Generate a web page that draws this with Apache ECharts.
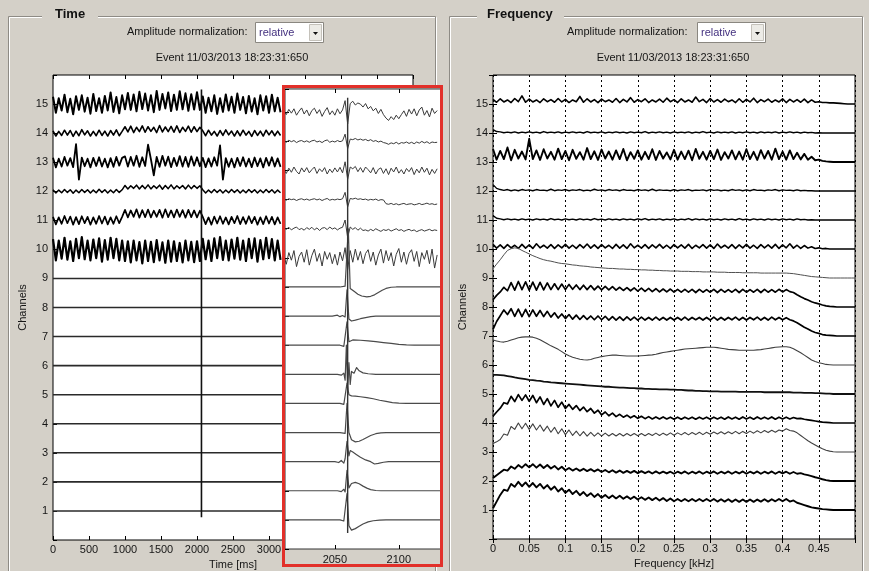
<!DOCTYPE html>
<html>
<head>
<meta charset="utf-8">
<title>Event 11/03/2013 18:23:31:650</title>
<script src="https://cdn.jsdelivr.net/npm/echarts@6.0.0/dist/echarts.min.js"></script>
<style>
  html, body { margin: 0; padding: 0; background: #d4d0c8; }
  #chart { width: 869px; height: 571px; }
</style>
</head>
<body>
<div id="chart"></div>
<script>
// ---------- values ----------
// all trace offsets are in 1/100 of one channel spacing, above the channel baseline
const channelTicks = [1, 2, 3, 4, 5, 6, 7, 8, 9, 10, 11, 12, 13, 14, 15];
const timeTicks = [0, 500, 1000, 1500, 2000, 2500, 3000, 3500, 4000, 4500];
const zoomTicks = [2050, 2100];
const freqTicks = [0, 0.05, 0.1, 0.15, 0.2, 0.25, 0.3, 0.35, 0.4, 0.45];

// Time view, noisy channels, one value every 40 ms from 0 ms (visible part only)
const mainStep = 40;
const main15 = [25,-30,20,-22,32,-28,18,-35,27,-20,30,-26,22,-33,35,-24,20,-30,28,-22,40,-27,24,-32,30,
  -18,38,-20,33,-25,42,-17,36,-22,30,-28,45,-20,35,-15,40,-24,32,-20,44,-18,37,-23,34,-19,41,-20,
  26,-30,22,-25,30,-34,20,-27,33,-22,25,-30,36,-20,24,-32,28,-26,20,-35,30,-22,27,-30,32,-25,22,-28];
const main14 = [8,-10,6,-8,10,-7,9,-11,7,-9,12,-6,8,-10,6,-9,10,-8,7,-10,9,-7,11,-9,6,
  22,4,24,2,20,5,25,3,22,6,20,2,26,4,21,5,23,3,25,2,20,6,24,3,22,5,20,
  8,-9,10,-7,6,-10,9,-8,11,-6,7,-10,8,-9,10,-7,6,-11,9,-8,7,-10,10,-6,8,-9,7,-8];
const main13 = [15,-18,12,-15,18,-12,14,-17,62,-60,16,-14,12,-18,15,-13,17,-15,12,-18,14,-16,18,-12,15,
  20,-15,18,-12,22,-16,17,-13,60,10,-45,18,-16,22,-12,19,-17,15,-13,21,-15,18,-16,20,-12,17,-14,
  15,-17,13,-15,17,-12,58,-60,14,-16,12,-18,15,-13,17,-15,12,-17,16,-14,13,-18,15,-12,17,-15,13,-16];
const main12 = [5,-6,4,-5,6,-4,5,-7,4,-5,6,-4,5,-6,4,-5,7,-4,5,-6,4,-5,6,-4,5,
  20,8,19,10,21,8,20,9,22,8,19,10,21,7,20,9,22,8,19,10,20,8,21,9,20,10,19,
  5,-6,4,-5,6,-4,5,-6,4,-5,6,-4,5,-6,4,-5,6,-4,5,-6,4,-5,6,-4,5,-6,4,-5];
const main11 = [12,-14,10,-12,15,-10,13,-15,11,-13,14,-10,12,-15,10,-12,15,-11,13,-14,10,-12,14,-10,12,
  36,10,34,12,38,9,35,11,37,10,33,12,36,9,38,11,34,10,37,12,35,9,36,11,34,10,33,
  12,-13,10,-15,13,-11,14,-12,10,-14,12,-10,15,-13,11,-12,14,-10,12,-15,10,-13,14,-11,12,-14,10,-12];
const main10 = [35,-38,30,-32,40,-35,28,-40,36,-30,42,-34,30,-38,34,-30,38,-42,32,-35,40,-30,36,-38,30,
  -40,28,-45,30,-38,25,-48,30,-40,26,-44,32,-38,24,-46,30,-42,28,-40,22,-45,30,-38,26,-44,28,-40,
  36,-34,30,-40,38,-30,42,-36,30,-38,34,-32,40,-35,30,-40,36,-30,38,-42,32,-34,40,-30,35,-38,30,-36];
const quietChannels = [1, 2, 3, 4, 5, 6, 7, 8, 9];
const timeRange = [0, 5000];
const mainSpike = [[2062, 0.78], [2062, 15.5]];

// zoomed window, noisy channels, one value every 2 ms from 2010 ms
const zoomStart = 2010;
const zoomStep = 2;
const zoom15 = [5,-8,10,-3,12,-10,4,15,-6,8,-12,6,14,-4,9,-14,3,16,-8,5,-10,12,-5,8,40,-40,30,38,25,32,
  28,18,30,12,20,5,14,-4,10,-8,-20,-28,-15,-25,-10,-22,-8,5,-14,10,-6,12,-12,8,18,-10,6,-16,14,-4,6];
const zoom14 = [2,-3,4,-1,3,-4,1,3,-2,2,-3,2,4,-2,1,-4,2,5,-3,1,-2,3,-1,2,25,-25,8,6,10,5,
  8,4,7,2,6,0,3,-2,1,-4,-6,-10,-5,-8,-3,-9,-4,-6,-2,-7,-3,-8,-2,-6,0,-5,-1,-7,-2,-4,-3];
const zoom13 = [4,-10,8,-6,12,-3,-12,9,-5,10,-8,3,12,-10,6,-4,10,-12,5,-7,9,-5,11,-8,30,-30,12,6,14,-4,
  10,-6,12,3,-8,10,-12,4,9,-10,6,-14,8,-5,12,-9,3,-12,7,-4,10,-14,5,-8,12,-6,8,-15,4,-10,6];
const zoom12 = [2,-2,3,0,2,-3,1,3,-1,2,-2,1,3,-1,2,-3,1,4,-2,1,-1,2,0,3,25,-25,4,2,5,1,
  3,0,2,-2,1,-1,2,-3,0,-1,-14,-16,-13,-17,-14,-18,-15,-13,-17,-15,-14,-18,-16,-13,-17,-15,-12,-16,-14,-17,-15];
const zoom11 = [3,-2,5,-4,2,6,-3,1,-5,4,-2,5,-4,3,-6,2,4,-3,6,-1,3,-4,2,5,30,-30,6,-2,4,-5,
  2,-6,-4,-8,-2,-7,0,-5,-9,-3,-6,-2,-8,-4,0,-6,-3,-9,-5,-2,-7,-4,-10,-6,-3,-8,-5,-2,-7,-4,-6];
const zoom10 = [10,-22,18,-8,25,-30,5,20,-15,28,-25,8,30,-12,15,-28,22,-5,18,-20,12,-25,20,-10,35,-40,25,-15,30,-8,
  22,-20,15,28,-12,20,-25,10,30,-18,25,-10,18,-28,12,32,-15,20,-22,15,28,-12,22,-30,18,-5,26,-20,30,-35,10];
// zoomed window, pulse responses of the quiet channels: [ms, offset]
const pulse9 = [[2010,0],[2054,0],[2058,3],[2060.5,200],[2062,-5],[2065,-15],[2068,-25],[2071,-31],[2075,-34],[2078,-32],[2081,-27],[2084,-19],[2087,-11],[2090,-5],[2094,-1],[2098,0],[2133,0]];
const pulse8 = [[2010,0],[2048,0],[2052,3],[2054,-2],[2056,2],[2058,-3],[2059.5,90],[2061,-10],[2063,-17],[2066,-14],[2070,-9],[2074,-5],[2078,-2],[2082,0],[2133,0]];
const pulse7 = [[2010,0],[2054,0],[2057,-4],[2059.5,80],[2061,12],[2064,18],[2070,17],[2076,15],[2082,12],[2088,9],[2094,6],[2100,3],[2106,1],[2112,0],[2133,0]];
const pulse6 = [[2010,0],[2052,0],[2055,-3],[2057,4],[2058,-20],[2059,100],[2060,-50],[2061,40],[2062,-35],[2063,10],[2065,4],[2067,23],[2069,12],[2072,5],[2076,2],[2082,0],[2133,0]];
const pulse5 = [[2010,0],[2054,0],[2057,-3],[2059.5,70],[2061,30],[2063,26],[2066,25],[2070,23],[2075,20],[2080,16],[2085,11],[2090,7],[2095,3],[2100,1],[2106,0],[2133,0]];
const pulse4 = [[2010,0],[2054,0],[2058,-3],[2059.5,100],[2061,0],[2063,-25],[2066,-32],[2069,-30],[2072,-24],[2075,-17],[2078,-10],[2082,-4],[2086,-1],[2090,0],[2133,0]];
const pulse3 = [[2010,0],[2050,0],[2053,-3],[2055,4],[2057,-5],[2058,10],[2059.5,70],[2061,20],[2062,38],[2064,33],[2067,24],[2070,15],[2074,6],[2078,0],[2081,-8],[2084,-6],[2088,-2],[2092,0],[2133,0]];
const pulse2 = [[2010,0],[2052,0],[2055,-3],[2057,5],[2058,-4],[2059.5,70],[2061,10],[2063,25],[2066,29],[2069,24],[2072,16],[2075,9],[2078,4],[2082,1],[2086,0],[2133,0]];
const pulse1 = [[2010,0],[2054,0],[2057,-4],[2059.5,90],[2061,-20],[2063,-35],[2066,-30],[2069,-22],[2072,-14],[2076,-7],[2080,-3],[2085,-1],[2090,0],[2133,0]];
const zoomSpike = [[2060, 0.55], [2060, 15.5]];

// Frequency view, one value every 0.005 kHz from 0 to 0.5 kHz
const specStep = 0.005;
const spec15 = [16,6,18,7,14,5,19,8,28,6, 17,7,14,5,18,8,15,6,19,7, 16,5,14,8,26,6,18,7,15,5, 17,8,14,6,19,5,16,7,22,6,
  15,8,18,5,14,7,17,6,20,8, 15,5,18,7,14,6,24,8,16,5, 19,7,15,6,17,8,14,5,18,6, 16,7,20,5,15,8,17,6,14,7,
  18,5,16,7,15,6,17,5,14,6, 8,5,5,4,4,3,2,1,0,0, 0];
const spec14 = [12,5,4,1,3,1,4,0,3,1, 4,1,3,0,5,1,3,1,4,0, 3,1,4,1,3,0,5,1,3,1, 4,0,3,1,4,1,3,0,4,1,
  3,1,5,0,3,1,4,1,3,0, 4,1,3,1,4,0,3,1,5,1, 3,0,4,1,3,1,4,0,3,1, 4,1,3,0,4,1,3,1,4,0,
  3,1,4,1,3,0,3,1,2,0, 1,0,0,0,0,0,0,0,0,0, 0];
const spec13 = [45,8,38,10,50,6,42,12,36,9, 80,10,40,7,44,12,35,8,46,10, 38,6,42,11,34,8,48,10,37,7, 43,12,36,8,40,10,45,6,34,11,
  40,8,35,10,44,7,38,12,33,9, 42,8,36,10,39,6,45,11,35,8, 38,10,43,7,34,12,40,9,36,8, 44,10,35,7,41,12,38,8,46,10,
  36,8,40,10,32,9,28,8,18,6, 8,4,2,1,0,0,0,0,0,0, 0];
const spec12 = [22,9,5,2,5,1,4,1,5,2, 4,1,5,2,3,1,6,1,4,2, 5,1,4,2,5,1,3,1,6,2, 4,1,5,2,4,1,5,2,3,1,
  5,2,4,1,6,1,4,2,3,1, 5,1,4,2,5,1,3,2,4,1, 5,2,4,1,3,1,5,2,4,1, 4,1,5,2,3,1,4,2,5,1,
  4,2,3,1,4,1,2,1,1,0, 0,0,0,0,0,0,0,0,0,0, 0];
const spec11 = [15,6,4,1,4,1,3,0,4,1, 3,0,4,1,3,0,5,1,3,0, 4,1,3,0,4,1,3,0,5,1, 3,0,4,1,3,0,4,1,3,0,
  4,1,5,0,3,1,4,0,3,1, 4,0,3,1,5,0,4,1,3,0, 4,1,3,0,4,1,3,0,5,1, 3,0,4,1,3,0,4,1,3,0,
  4,1,3,0,4,1,2,0,1,0, 0,0,0,0,0,0,0,0,0,0, 0];
const spec10 = [16,3,14,2,15,4,13,2,16,3, 14,2,18,4,13,3,15,2,14,4, 16,3,13,2,15,4,17,3,14,2, 15,4,13,2,16,3,14,2,18,4,
  13,3,15,2,14,4,16,3,13,2, 15,4,14,3,16,2,13,4,15,3, 14,2,17,4,13,3,15,2,14,4, 16,3,13,2,15,4,14,3,16,2,
  14,4,18,3,13,2,12,3,8,2, 4,1,2,0,0,0,0,0,0,0, 0];
const spec9 = [32,48,63,80,95,101,104,102,95,89, 83,77,72,67,63,60,58,55,52,50, 49,47,45,44,42,41,40,38,37,36, 35,34,33,33,32,31,31,30,30,29,
  29,28,28,27,27,26,26,25,25,24, 24,24,23,23,23,22,22,22,21,21, 21,21,20,20,20,19,19,19,19,18, 18,18,18,18,17,17,17,17,17,17,
  17,17,16,15,13,11,9,7,5,4, 3,2,1,0,0,0,0,0,0,0, 0];
const spec8 = [25,40,52,68,56,84,58,88,60,87, 58,86,58,85,59,83,60,80,60,79, 60,78,61,76,60,75,60,74,59,72, 59,71,59,70,58,68,57,67,56,66,
  55,65,54,64,53,63,52,62,52,62, 51,61,51,61,51,61,50,61,51,60, 51,61,50,61,51,60,51,61,50,61, 51,60,51,61,50,61,51,60,51,61,
  52,60,53,50,42,35,29,24,18,14, 11,7,4,2,1,0,0,0,0,0, 0];
const spec7 = [23,50,70,90,74,94,68,93,67,92, 67,90,68,88,67,85,65,80,62,76, 60,74,58,72,57,70,57,69,56,69, 56,68,55,67,55,66,54,66,55,65,
  55,65,55,64,55,65,55,64,55,64, 55,64,55,65,55,64,56,64,55,64, 55,65,55,64,55,64,56,65,55,64, 55,64,56,65,55,64,55,65,56,64,
  56,63,56,52,46,38,30,24,17,12, 9,5,3,2,1,0,0,0,0,0, 0];
const spec6 = [86,83,80,79,82,86,90,94,96,97, 97,96,92,87,80,73,66,60,54,46, 38,32,27,23,20,18,17,19,23,26, 29,31,33,34,34,33,32,31,31,31,
  31,32,33,34,35,37,40,43,45,47, 49,51,53,55,56,57,58,59,60,61, 61,61,60,58,56,54,53,52,51,51, 51,51,51,52,53,55,57,59,61,62,
  63,63,61,56,49,42,34,26,17,12, 8,5,2,1,0,0,0,0,0,0, 0];
const spec5 = [66,66,65,64,62,60,57,55,53,51, 49,48,46,45,43,42,40,39,38,37, 36,35,34,33,32,31,30,29,28,27, 26,25,25,24,23,22,22,21,20,20,
  19,19,18,18,17,17,16,16,16,15, 15,14,14,13,12,12,11,11,10,10, 9,9,9,8,8,8,8,8,7,7, 7,7,7,7,7,6,6,6,6,6,
  6,6,6,5,5,5,4,4,4,3, 3,2,1,1,0,0,0,0,0,0, 0];
const spec4 = [23,38,51,70,66,92,74,98,78,97, 75,95,70,90,64,84,59,78,54,72, 50,64,47,60,43,55,39,50,34,44, 28,38,25,34,22,30,20,27,18,25,
  16,23,15,22,14,21,14,21,14,20, 13,20,13,20,14,20,13,20,14,20, 13,20,14,20,13,21,14,20,13,21, 14,20,13,21,14,20,14,21,13,20,
  14,20,14,19,15,16,13,11,9,7, 5,3,2,1,0,0,0,0,0,0, 0];
const spec3 = [29,35,43,62,58,88,78,100,80,99, 78,97,76,93,72,89,68,85,63,80, 60,76,57,72,56,70,55,68,55,66, 55,65,55,64,55,64,55,64,56,64,
  56,64,56,64,57,65,57,65,58,66, 58,66,59,67,59,67,60,68,60,68, 61,69,62,70,62,70,63,71,63,71, 64,72,65,73,66,74,67,75,68,76,
  72,80,74,72,66,57,48,39,31,24, 17,11,6,3,1,0,0,0,0,0, 0];
const spec2 = [10,20,29,39,36,50,42,55,46,58, 47,58,46,57,45,55,43,52,40,49, 37,45,36,43,35,42,34,41,33,40, 31,38,30,37,29,36,28,35,28,35,
  27,34,27,33,26,33,26,32,26,32, 25,32,26,33,25,32,26,33,25,32, 26,33,25,32,26,33,25,32,26,33, 25,32,26,33,25,32,26,33,25,32,
  26,32,25,31,25,27,23,20,17,13, 10,6,3,1,0,0,0,0,0,0, 0];
const spec1 = [6,29,52,70,66,90,80,97,82,95, 80,93,78,90,74,86,70,81,64,75, 59,70,55,66,51,62,48,58,45,55, 42,52,41,50,40,49,39,47,38,46,
  36,44,35,43,34,42,33,41,31,40, 30,38,30,38,30,38,30,38,30,38, 30,38,29,37,29,37,28,36,28,36, 28,36,28,36,29,37,29,37,30,38,
  30,38,29,33,25,21,17,13,9,7, 5,3,2,1,0,0,0,0,0,0, 0];

// ---------- page ----------
const BG = '#d4d0c8';
const FONT = '"Liberation Sans", Arial, sans-serif';
const TXT = '#161616';

const chart = echarts.init(document.getElementById('chart'));

function tickLabel(ticks) {
  return v => {
    const t = ticks.find(k => Math.abs(k - v) < 1e-9);
    return t === undefined ? '' : String(t);
  };
}

function trace(data, xi, yi, color, width, layer) {
  return {
    type: 'line', xAxisIndex: xi, yAxisIndex: yi, data: data,
    showSymbol: false, symbol: 'none', silent: true, animation: false,
    lineStyle: { color: color, width: width, join: 'round' }, emphasis: { disabled: true },
    zlevel: layer || 0, z: layer ? 8 : 2
  };
}

const sampled = (arr, ch, start, step) => arr.map((v, i) => [start + i * step, ch + v / 100]);
const paired = (arr, ch) => arr.map(p => [p[0], ch + p[1] / 100]);

// group boxes and controls drawn like the original GUI
function etched(x, y, w, h) {
  return [
    { type: 'rect', silent: true, shape: { x: x + 1.5, y: y + 1.5, width: w, height: h }, style: { fill: 'transparent', stroke: '#ffffff', lineWidth: 1 } },
    { type: 'rect', silent: true, shape: { x: x + 0.5, y: y + 0.5, width: w, height: h }, style: { fill: 'transparent', stroke: '#8e8b85', lineWidth: 1 } }
  ];
}
function groupTitle(text, x, gapX, gapW) {
  return [
    { type: 'rect', silent: true, shape: { x: gapX, y: 8, width: gapW, height: 12 }, style: { fill: BG } },
    { type: 'text', silent: true, x: x, y: 14, style: { text: text, font: 'bold 13px ' + FONT, fill: '#111', verticalAlign: 'middle' } }
  ];
}
function dropdown(x, y) {
  return [
    { type: 'rect', silent: true, shape: { x: x + 0.5, y: y + 0.5, width: 68, height: 20 }, style: { fill: '#ffffff', stroke: '#8a8780', lineWidth: 1 } },
    { type: 'rect', silent: true, shape: { x: x + 54.5, y: y + 2.5, width: 12, height: 16 }, style: { fill: '#ecebe6', stroke: '#c4c1ba', lineWidth: 1 } },
    { type: 'polygon', silent: true, shape: { points: [[x + 58, y + 10], [x + 63, y + 10], [x + 60.5, y + 13]] }, style: { fill: '#111' } },
    { type: 'text', silent: true, x: x + 4, y: y + 10.5, style: { text: 'relative', font: '11px ' + FONT, fill: '#43307f', verticalAlign: 'middle' } }
  ];
}
function header(labelX, dropX, centerX) {
  return [
    { type: 'text', silent: true, x: labelX, y: 32, style: { text: 'Amplitude normalization:', font: '11px ' + FONT, fill: TXT, verticalAlign: 'middle' } },
    ...dropdown(dropX, 22),
    { type: 'text', silent: true, x: centerX, y: 58, style: { text: 'Event 11/03/2013 18:23:31:650', font: '11px ' + FONT, fill: TXT, align: 'center', verticalAlign: 'middle' } }
  ];
}

const chrome = [
  ...etched(8, 16, 427, 600),
  ...etched(449, 16, 413, 600),
  ...groupTitle('Time', 55, 42, 56),
  ...groupTitle('Frequency', 487, 477, 87),
  ...header(127, 255, 232),
  ...header(567, 697, 673),
  // zoom window frame, above the time view
  { type: 'rect', silent: true, zlevel: 1, z: 1, shape: { x: 283, y: 86, width: 159, height: 480 }, style: { fill: BG } },
  { type: 'rect', silent: true, zlevel: 1, z: 30, shape: { x: 283.5, y: 86.5, width: 158, height: 479 }, style: { fill: 'transparent', stroke: '#e2302a', lineWidth: 3 } }
];

const tickStyle = { show: true, inside: true, length: 4, lineStyle: { color: '#000', width: 1 } };
const labelStyle = { color: TXT, fontSize: 11, fontFamily: FONT };
const nameStyle = { color: TXT, fontSize: 11, fontFamily: FONT };

const series = [];
[[15, main15, 2], [14, main14, 1.6], [13, main13, 1.8], [12, main12, 1.5], [11, main11, 1.7], [10, main10, 2.2]].forEach(([ch, arr, w]) => {
  series.push(trace(sampled(arr, ch, 0, mainStep), 0, 0, '#000', w));
});
quietChannels.forEach(ch => series.push(trace(timeRange.map(t => [t, ch]), 0, 0, '#2a2a2a', 1.6)));
series.push(trace(mainSpike, 0, 0, '#111', 1.6));

[[15, zoom15], [14, zoom14], [13, zoom13], [12, zoom12], [11, zoom11], [10, zoom10]].forEach(([ch, arr]) => {
  series.push(trace(sampled(arr, ch, zoomStart, zoomStep), 2, 1, '#3a3a3a', 1, 1));
});
[[9, pulse9], [8, pulse8], [7, pulse7], [6, pulse6], [5, pulse5], [4, pulse4], [3, pulse3], [2, pulse2], [1, pulse1]].forEach(([ch, arr]) => {
  series.push(trace(paired(arr, ch), 2, 1, '#4a4a4a', 1.2, 1));
});
series.push(trace(zoomSpike, 2, 1, '#333', 1.4, 1));

[
  [15, spec15, '#000', 1.6], [14, spec14, '#000', 1.4], [13, spec13, '#000', 1.9], [12, spec12, '#000', 1.4],
  [11, spec11, '#000', 1.4], [10, spec10, '#000', 1.6], [9, spec9, '#505050', 1], [8, spec8, '#000', 1.7],
  [7, spec7, '#000', 1.7], [6, spec6, '#404040', 1.1], [5, spec5, '#111', 1.8], [4, spec4, '#000', 1.7],
  [3, spec3, '#404040', 1.1], [2, spec2, '#000', 1.9], [1, spec1, '#000', 1.9]
].forEach(([ch, arr, color, w]) => series.push(trace(sampled(arr, ch, 0, specStep), 4, 2, color, w)));

const option = {
  backgroundColor: BG,
  animation: false,
  textStyle: { fontFamily: FONT },
  graphic: { elements: chrome },
  grid: [
    { left: 53, top: 75, width: 360, height: 465, show: true, backgroundColor: '#fff', borderColor: '#000', borderWidth: 1, outerBoundsMode: 'none' },
    { left: 285, top: 89, width: 156, height: 460, show: true, backgroundColor: '#fff', borderColor: '#333', borderWidth: 1, zlevel: 1, z: 5, outerBoundsMode: 'none' },
    { left: 493, top: 75, width: 362, height: 464, show: true, backgroundColor: '#fff', borderColor: '#000', borderWidth: 1, outerBoundsMode: 'none' }
  ],
  xAxis: [
    { gridIndex: 0, type: 'value', min: timeRange[0], max: timeRange[1], interval: 500, position: 'bottom',
      axisLine: { show: false }, axisTick: tickStyle, splitLine: { show: false },
      axisLabel: Object.assign({ margin: 4, formatter: tickLabel(timeTicks) }, labelStyle),
      name: 'Time [ms]', nameLocation: 'middle', nameGap: 18, nameTextStyle: nameStyle },
    { gridIndex: 0, type: 'value', min: timeRange[0], max: timeRange[1], interval: 500, position: 'top',
      axisLine: { show: false }, axisTick: tickStyle, axisLabel: { show: false }, splitLine: { show: false } },
    { gridIndex: 1, type: 'value', min: 2011, max: 2133, position: 'bottom', zlevel: 1, z: 6,
      axisLine: { show: false }, splitLine: { show: false },
      axisTick: Object.assign({ customValues: zoomTicks }, tickStyle),
      axisLabel: Object.assign({ margin: 5, customValues: zoomTicks, formatter: tickLabel(zoomTicks) }, labelStyle) },
    { gridIndex: 1, type: 'value', min: 2011, max: 2133, position: 'top', zlevel: 1, z: 6,
      axisLine: { show: false }, splitLine: { show: false }, axisLabel: { show: false },
      axisTick: Object.assign({ customValues: zoomTicks }, tickStyle) },
    { gridIndex: 2, type: 'value', min: 0, max: 0.5, interval: 0.05, position: 'bottom',
      axisLine: { show: false }, axisTick: tickStyle,
      splitLine: { show: true, lineStyle: { color: '#000', width: 1, type: [2, 3] } },
      axisLabel: Object.assign({ margin: 4, formatter: tickLabel(freqTicks) }, labelStyle),
      name: 'Frequency [kHz]', nameLocation: 'middle', nameGap: 18, nameTextStyle: nameStyle },
    { gridIndex: 2, type: 'value', min: 0, max: 0.5, interval: 0.05, position: 'top',
      axisLine: { show: false }, axisTick: tickStyle, axisLabel: { show: false }, splitLine: { show: false } }
  ],
  yAxis: [
    { gridIndex: 0, type: 'value', min: 0, max: 16, interval: 1, position: 'left',
      axisLine: { show: false }, axisTick: tickStyle, splitLine: { show: false },
      axisLabel: Object.assign({ margin: 5, formatter: tickLabel(channelTicks) }, labelStyle),
      name: 'Channels', nameLocation: 'middle', nameGap: 25, nameTextStyle: nameStyle },
    { gridIndex: 1, type: 'value', min: 0, max: 15.8, interval: 1, position: 'left', zlevel: 1, z: 6,
      axisLine: { show: false }, axisTick: tickStyle, axisLabel: { show: false }, splitLine: { show: false } },
    { gridIndex: 2, type: 'value', min: 0, max: 16, interval: 1, position: 'left',
      axisLine: { show: false }, axisTick: tickStyle, splitLine: { show: false },
      axisLabel: Object.assign({ margin: 5, formatter: tickLabel(channelTicks) }, labelStyle),
      name: 'Channels', nameLocation: 'middle', nameGap: 25, nameTextStyle: nameStyle },
    { gridIndex: 2, type: 'value', min: 0, max: 16, interval: 1, position: 'right',
      axisLine: { show: false }, axisTick: tickStyle, axisLabel: { show: false }, splitLine: { show: false } }
  ],
  series: series
};

chart.setOption(option);
window.addEventListener('resize', () => chart.resize());
</script>
</body>
</html>
